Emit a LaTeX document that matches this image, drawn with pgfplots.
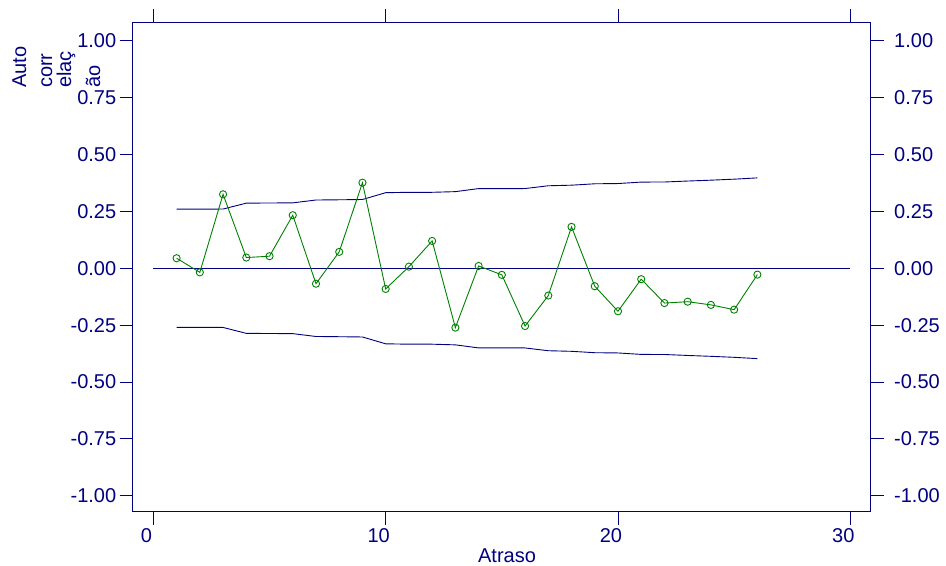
\documentclass[border=0pt]{standalone}
\usepackage{fontspec}
\setmainfont{Liberation Sans}
\usepackage{pgfplots}
\usepackage{pgfplotstable}
\pgfplotsset{compat=1.18}
\definecolor{sasnavy}{RGB}{0,0,128}
\definecolor{sasgreen}{RGB}{0,128,0}

% lag, sample autocorrelation and the two-standard-error bounds
\pgfplotstableread{
lag acf upper lower
1 0.044 0.2596 -0.2596
2 -0.018 0.2601 -0.2601
3 0.325 0.2602 -0.2602
4 0.047 0.2862 -0.2862
5 0.053 0.2868 -0.2868
6 0.233 0.2874 -0.2874
7 -0.068 0.2999 -0.2999
8 0.072 0.3009 -0.3009
9 0.376 0.3021 -0.3021
10 -0.091 0.3321 -0.3321
11 0.007 0.3338 -0.3338
12 0.120 0.3338 -0.3338
13 -0.261 0.3367 -0.3367
14 0.010 0.3501 -0.3501
15 -0.029 0.3501 -0.3501
16 -0.254 0.3503 -0.3503
17 -0.120 0.3625 -0.3625
18 0.182 0.3651 -0.3651
19 -0.079 0.3712 -0.3712
20 -0.189 0.3723 -0.3723
21 -0.048 0.3787 -0.3787
22 -0.153 0.3791 -0.3791
23 -0.147 0.3833 -0.3833
24 -0.161 0.3871 -0.3871
25 -0.182 0.3915 -0.3915
26 -0.028 0.3972 -0.3972
}\acfdata

\newcommand{\labfont}{\fontsize{20bp}{24bp}\selectfont}

\pgfplotsset{
  acfframe/.style={
    at={(132.7bp,54.3bp)}, anchor=south west,
    scale only axis, width=737.8bp, height=489.4bp,
    xmin=-0.89, xmax=30.87, ymin=-1.07, ymax=1.081,
    xtick={0,10,20,30},
    ytick={-1,-0.75,-0.5,-0.25,0,0.25,0.5,0.75,1},
    /pgf/number format/assume math mode=true,
    every tick label/.append style={font=\labfont, text=sasnavy},
    yticklabel style={/pgf/number format/fixed,
                      /pgf/number format/fixed zerofill,
                      /pgf/number format/precision=2},
  }
}

\begin{document}
\begin{tikzpicture}
\path[use as bounding box] (0bp,0bp) rectangle (946bp,566bp);
\begin{axis}[
  acfframe,
  axis line style={sasnavy, line width=0.9bp},
  tick style={sasnavy, line width=0.9bp},
  tick align=outside, major tick length=13bp,
  xtick pos=both, ytick pos=both,
  xticklabel pos=lower, yticklabel pos=left,
  xticklabel style={xshift=-7bp},
  clip=false,
]
  \addplot[sasnavy, line width=0.9bp] coordinates {(0,0) (30,0)};
  \addplot[sasnavy, line width=0.9bp] table[x=lag, y=upper] {\acfdata};
  \addplot[sasnavy, line width=0.9bp] table[x=lag, y=lower] {\acfdata};
  \addplot[sasgreen, line width=0.9bp, mark=o, mark size=3.6bp,
           mark options={solid, line width=0.9bp}] table[x=lag, y=acf] {\acfdata};
\end{axis}
% right-hand tick labels
\begin{axis}[
  acfframe,
  hide x axis,
  axis y line*=right,
  y axis line style={draw=none},
  major tick length=0pt,
  yticklabel style={anchor=west, inner sep=0pt, xshift=23.5bp},
]
  \addplot[draw=none] coordinates {(0,0)};
\end{axis}
% axis titles
\begin{scope}[every node/.style={inner sep=0pt, text=sasnavy, font=\labfont}]
  \node[anchor=base] at (507bp,3.5bp) {Atraso};
  \node[rotate=90, anchor=base west] at (26bp,478bp) {Auto};
  \node[rotate=90, anchor=base west] at (52bp,478bp) {corr};
  \node[rotate=90, anchor=base west] at (71bp,478bp) {elaç};
  \node[rotate=90, anchor=base west] at (100bp,478bp) {ão};
\end{scope}
\end{tikzpicture}
\end{document}
